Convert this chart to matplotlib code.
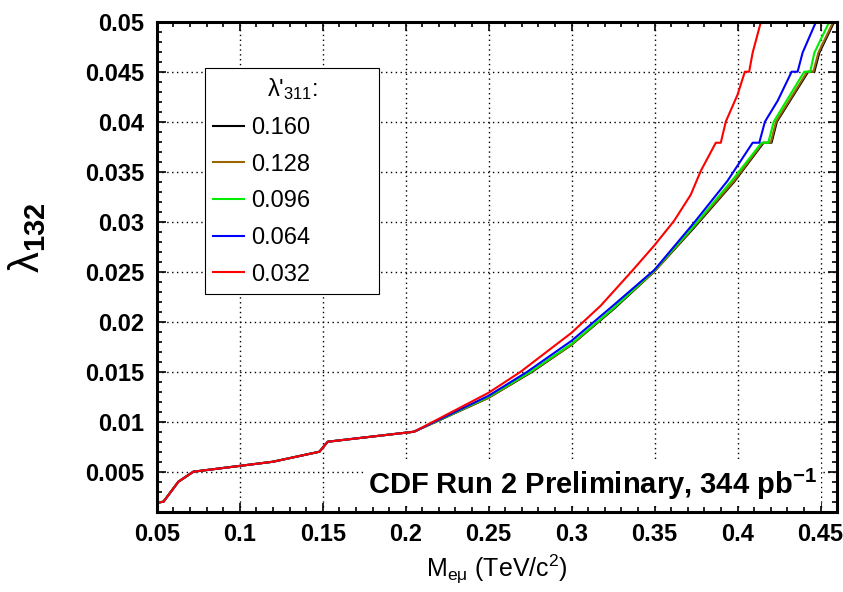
import numpy as np
import matplotlib as mpl
mpl.use('Agg')
import matplotlib.pyplot as plt
from matplotlib.ticker import MultipleLocator, FormatStrFormatter

plt.rcParams['font.family'] = ['Liberation Sans', 'DejaVu Sans']
plt.rcParams['mathtext.fontset'] = 'custom'
plt.rcParams['mathtext.rm'] = 'Liberation Sans'
plt.rcParams['mathtext.it'] = 'Liberation Sans:italic'
plt.rcParams['mathtext.bf'] = 'Liberation Sans:bold'

# common low-mass part, identical for all couplings
x_low = [0.05, 0.054, 0.063, 0.072, 0.12, 0.148, 0.153, 0.205]
y_low = [0.0019, 0.0020, 0.0040, 0.0050, 0.0060, 0.0070, 0.0080, 0.0090]

# upper part of each limit curve
x_160 = [0.25, 0.2763, 0.30, 0.3256, 0.3497, 0.3738, 0.398, 0.4157, 0.4205, 0.4237, 0.4426, 0.4463, 0.4493, 0.4583]
y_160 = [0.0124, 0.015, 0.0177, 0.0213, 0.0250, 0.0294, 0.0340, 0.0379, 0.0379, 0.040, 0.045, 0.045, 0.0469, 0.0500]
x_128 = [0.25, 0.2758, 0.30, 0.3256, 0.3497, 0.3738, 0.398, 0.4152, 0.4200, 0.4232, 0.4420, 0.4457, 0.4487, 0.4577]
y_128 = [0.0124, 0.015, 0.0177, 0.0214, 0.0250, 0.0295, 0.0341, 0.0379, 0.0379, 0.040, 0.045, 0.045, 0.0469, 0.0500]
x_096 = [0.25, 0.2753, 0.30, 0.3256, 0.3497, 0.3738, 0.398, 0.4145, 0.4185, 0.4218, 0.4402, 0.4438, 0.4463, 0.4553]
y_096 = [0.0125, 0.015, 0.0178, 0.0214, 0.0251, 0.0296, 0.0344, 0.0379, 0.0379, 0.040, 0.045, 0.045, 0.0469, 0.0500]
x_064 = [0.25, 0.2733, 0.30, 0.3256, 0.35, 0.3738, 0.394, 0.4091, 0.4131, 0.4165, 0.4242, 0.4326, 0.4362, 0.4392, 0.4473]
y_064 = [0.0126, 0.015, 0.0181, 0.0217, 0.0252, 0.0299, 0.0341, 0.0379, 0.0379, 0.040, 0.0421, 0.045, 0.045, 0.0469, 0.0500]
x_032 = [0.25, 0.2693, 0.30, 0.3175, 0.3360, 0.3497, 0.3618, 0.3718, 0.3779, 0.3869, 0.3899, 0.3929, 0.4000, 0.4044, 0.4070, 0.4091, 0.4141]
y_032 = [0.0129, 0.015, 0.0189, 0.0216, 0.0250, 0.0276, 0.0301, 0.0327, 0.0351, 0.0379, 0.0379, 0.0400, 0.0427, 0.045, 0.045, 0.0469, 0.0500]

labels = ['0.160', '0.128', '0.096', '0.064', '0.032']
colors = ['black', '#996600', '#00ee00', '#0000ff', '#ff0000']
curves = [(x_160, y_160), (x_128, y_128), (x_096, y_096), (x_064, y_064), (x_032, y_032)]

fig = plt.figure(figsize=(8.43, 5.92), dpi=100)
ax = fig.add_axes([0.186, 0.1356, 0.807, 0.8277])

for (xs, ys), lab, col in zip(curves, labels, colors):
	ax.plot(x_low + xs, y_low + ys, color=col, lw=1.5, label=lab)

ax.set_xlim(0.05, 0.46)
ax.set_ylim(0.001, 0.05)

ax.xaxis.set_major_locator(MultipleLocator(0.05))
ax.xaxis.set_minor_locator(MultipleLocator(0.01))
ax.yaxis.set_major_locator(MultipleLocator(0.005))
ax.yaxis.set_minor_locator(MultipleLocator(0.001))
ax.xaxis.set_major_formatter(FormatStrFormatter('%g'))
ax.yaxis.set_major_formatter(FormatStrFormatter('%g'))

ax.tick_params(which='both', direction='in', top=True, right=True, width=1.2)
ax.tick_params(which='major', length=6.5, labelsize=17)
ax.tick_params(axis='y', which='major', pad=9)
ax.tick_params(axis='x', which='major', pad=8)
ax.tick_params(which='minor', length=3.5)
for lbl in ax.get_xticklabels() + ax.get_yticklabels():
	lbl.set_fontweight('bold')
for sp in ax.spines.values():
	sp.set_linewidth(2.2)

ax.grid(True, which='major', color='black', linestyle=(0, (1, 2.5)), lw=1)

ax.set_xlabel('M$_{\\mathrm{eμ}}$ (TeV/c$^{\\mathrm{2}}$)', fontsize=18, labelpad=5)
ax.set_ylabel('λ$_{\\mathbf{132}}$', fontsize=30)
ax.yaxis.set_label_coords(-0.16, 0.56)

leg = ax.legend(title="λ'$_{\\mathrm{311}}$:", loc='upper left',
	bbox_to_anchor=(0.071, 0.415, 0.256, 0.49), mode='expand',
	fontsize=17, title_fontsize=17, frameon=True, fancybox=False,
	edgecolor='black', framealpha=1, borderaxespad=0, labelspacing=0.62,
	handlelength=1.3, handletextpad=0.3, borderpad=0.35)
leg.get_frame().set_linewidth(0.8)

ax.text(0.448, 0.0028, 'CDF Run 2 Preliminary, 344 pb$^{\\mathbf{-1}}$', fontsize=21,
	fontweight='bold', ha='right', va='baseline',
	bbox=dict(facecolor='white', edgecolor='none', pad=3))

plt.savefig('out.png', dpi=100)
